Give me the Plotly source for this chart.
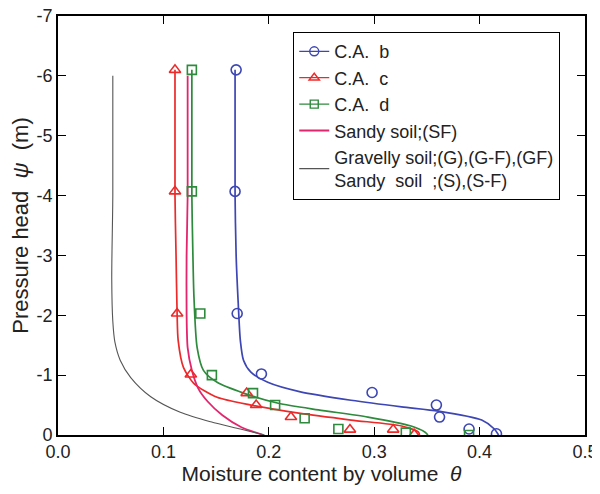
import plotly.graph_objects as go

# Measured points
ca_b_theta = [0.169, 0.168, 0.170, 0.193, 0.298, 0.359, 0.362, 0.390, 0.416]
ca_b_psi = [-6.1, -4.07, -2.03, -1.02, -0.71, -0.50, -0.30, -0.10, -0.02]

ca_c_theta = [0.111, 0.111, 0.113, 0.126, 0.179, 0.188, 0.221, 0.277, 0.318, 0.338]
ca_c_psi = [-6.1, -4.07, -2.03, -1.01, -0.70, -0.50, -0.30, -0.09, -0.09, -0.01]

ca_d_theta = [0.127, 0.127, 0.135, 0.146, 0.185, 0.206, 0.234, 0.266, 0.330, 0.390]
ca_d_psi = [-6.1, -4.07, -2.03, -1.00, -0.70, -0.50, -0.28, -0.10, -0.04, 0.0]

# Fitted curves
fit_b_theta = [0.168, 0.168, 0.169, 0.171, 0.173, 0.176, 0.183, 0.199, 0.230, 0.278, 0.326, 0.361, 0.402, 0.414, 0.418]
fit_b_psi = [-6.1, -4.0, -3.0, -2.2, -1.58, -1.25, -1.05, -0.88, -0.72, -0.58, -0.47, -0.40, -0.25, -0.10, 0.0]

fit_c_theta = [0.111, 0.111, 0.112, 0.113, 0.114, 0.119, 0.129, 0.151, 0.183, 0.230, 0.278, 0.326, 0.342, 0.343]
fit_c_psi = [-6.1, -4.0, -3.0, -2.03, -1.58, -1.13, -0.86, -0.63, -0.50, -0.36, -0.25, -0.15, -0.05, 0.0]

fit_d_theta = [0.127, 0.127, 0.128, 0.129, 0.132, 0.138, 0.151, 0.176, 0.209, 0.247, 0.294, 0.335, 0.348, 0.351]
fit_d_psi = [-6.1, -4.0, -3.0, -2.3, -1.46, -1.08, -0.88, -0.70, -0.53, -0.42, -0.30, -0.15, -0.05, 0.0]

sf_theta = [0.123, 0.123, 0.122, 0.122, 0.123, 0.127, 0.133, 0.142, 0.156, 0.174, 0.195]
sf_psi = [-6.0, -4.0, -3.0, -2.03, -1.46, -1.08, -0.78, -0.56, -0.33, -0.13, 0.0]

gr_theta = [0.052, 0.052, 0.051, 0.052, 0.054, 0.059, 0.069, 0.088, 0.116, 0.145, 0.173, 0.196]
gr_psi = [-6.0, -4.0, -2.6, -1.9, -1.55, -1.25, -0.96, -0.64, -0.38, -0.22, -0.10, 0.0]

x_ticks = [0.0, 0.1, 0.2, 0.3, 0.4, 0.5]
x_tick_labels = ["0.0", "0.1", "0.2", "0.3", "0.4", "0.5"]
y_ticks = [-7, -6, -5, -4, -3, -2, -1, 0]
y_tick_labels = ["-7", "-6", "-5", "-4", "-3", "-2", "-1", "0"]

BLUE = "#3c46b4"
RED = "#ec2a2a"
GREEN = "#2e8a3c"
PINK = "#e3256e"
GRAY = "#555555"

FONT = "Liberation Sans, Arial"

fig = go.Figure()

# fitted curves (no legend)
for tx, ty, col in [(fit_b_theta, fit_b_psi, BLUE), (fit_c_theta, fit_c_psi, RED),
                    (fit_d_theta, fit_d_psi, GREEN)]:
    fig.add_trace(go.Scatter(x=tx, y=ty, mode="lines", showlegend=False,
                             line=dict(color=col, width=1.7, shape="spline", smoothing=0.7),
                             hoverinfo="skip"))

fig.add_trace(go.Scatter(x=sf_theta, y=sf_psi, mode="lines", showlegend=False,
                         line=dict(color=PINK, width=1.8, shape="spline", smoothing=0.7)))
fig.add_trace(go.Scatter(x=gr_theta, y=gr_psi, mode="lines", showlegend=False,
                         line=dict(color=GRAY, width=1.1, shape="spline", smoothing=0.8)))

# measured markers
for tx, ty, col, sym, sz in [(ca_b_theta, ca_b_psi, BLUE, "circle-open", 10),
                             (ca_c_theta, ca_c_psi, RED, "triangle-up-open", 10),
                             (ca_d_theta, ca_d_psi, GREEN, "square-open", 9)]:
    fig.add_trace(go.Scatter(x=tx, y=ty, mode="markers", showlegend=False,
                             marker=dict(symbol=sym, size=sz, color=col, line=dict(width=1.6))))

# legend entries
legend_entries = [
    ("C.A.  b", BLUE, "circle-open", 9, "lines+markers", 1.3),
    ("C.A.  c", RED, "triangle-up-open", 9, "lines+markers", 1.3),
    ("C.A.  d", GREEN, "square-open", 8, "lines+markers", 1.3),
    ("Sandy soil;(SF)", PINK, None, 0, "lines", 1.8),
    ("Gravelly soil;(G),(G-F),(GF)<br>Sandy  soil  ;(S),(S-F)", GRAY, None, 0, "lines", 1.1),
]
for name, col, sym, sz, mode, lw in legend_entries:
    kw = dict(x=[None], y=[None], mode=mode, name=name, line=dict(color=col, width=lw))
    if sym:
        kw["marker"] = dict(symbol=sym, size=sz, color=col, line=dict(width=1.4))
    fig.add_trace(go.Scatter(**kw))

axis_common = dict(showline=True, linecolor="black", linewidth=1.6, mirror="ticks",
                   ticks="inside", ticklen=8, tickwidth=1.3, tickcolor="black",
                   showgrid=False, zeroline=False, automargin=False,
                   ticklabeloverflow="allow",
                   tickfont=dict(family=FONT, size=18, color="#222"))

fig.update_xaxes(range=[0, 0.5], tickvals=x_ticks, ticktext=x_tick_labels,
                 title=dict(text="Moisture content by volume  <i>θ</i>",
                            font=dict(family=FONT, size=21, color="#222"),
                            standoff=4),
                 **axis_common)
fig.update_yaxes(range=[0, -7], tickvals=y_ticks, ticktext=y_tick_labels,
                 title=dict(text="Pressure head  <i>ψ</i>  (m)",
                            font=dict(family=FONT, size=22, color="#222"),
                            standoff=2),
                 **axis_common)

# page body has an 8px margin, so the figure is sized to fit the 600x494 window
fig.update_layout(
    width=592, height=486,
    margin=dict(l=50, r=15, t=8, b=59),
    plot_bgcolor="white", paper_bgcolor="white",
    legend=dict(x=0.446, y=0.962, xanchor="left", yanchor="top",
                bgcolor="white", bordercolor="black", borderwidth=1.2,
                font=dict(family=FONT, size=18, color="#222"),
                itemwidth=30, tracegroupgap=0),
    showlegend=True,
)

fig.write_html("out.html")
